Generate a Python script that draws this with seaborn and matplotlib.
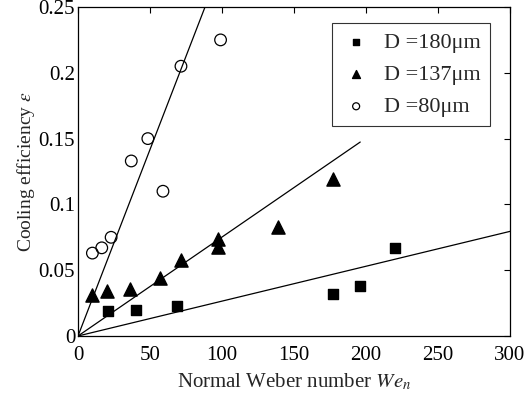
import numpy as np
import pandas as pd
import matplotlib
matplotlib.use("Agg")
import matplotlib.pyplot as plt
import seaborn as sns

# Data
we_180 = [21, 40, 69, 177, 196, 220]
eps_180 = [0.019, 0.020, 0.023, 0.032, 0.038, 0.067]
we_137 = [10, 20, 36, 57, 71.5, 97.5, 97.5, 139, 177]
eps_137 = [0.031, 0.034, 0.0355, 0.044, 0.058, 0.0735, 0.0676, 0.0826, 0.119]
we_80 = [10, 16.5, 23, 37, 48.5, 59, 71.5, 99]
eps_80 = [0.063, 0.067, 0.075, 0.133, 0.150, 0.110, 0.205, 0.225]
labels = ["D =180\u03bcm", "D =137\u03bcm", "D =80\u03bcm"]
# fitted lines through origin: slope and x extent
fit_slopes = [0.000265, 0.000752, 0.002834]
fit_xmax = [300, 196, 100]

sns.set_style("white")
plt.rcParams["font.family"] = ["Liberation Serif", "DejaVu Serif"]
plt.rcParams["mathtext.fontset"] = "stix"
plt.rcParams["font.size"] = 15

fig = plt.figure(figsize=(5.29, 4.05), dpi=100)
ax = fig.add_axes([78/529, 1-336/405, (510-78)/529, (336-7)/405])

for s, xm in zip(fit_slopes, fit_xmax):
    xs = np.array([0, xm])
    sns.lineplot(x=xs, y=s*xs, ax=ax, color="black", lw=0.9, legend=False)

ax.scatter(we_180, eps_180, marker="s", s=45, color="black", label=labels[0], zorder=3)
ax.scatter(we_137, eps_137, marker="^", s=90, color="black", label=labels[1], zorder=3)
ax.scatter(we_80, eps_80, marker="o", s=70, facecolor="none", edgecolor="black",
           linewidths=0.9, label=labels[2], zorder=3)

ax.set_xlim(0, 300)
ax.set_ylim(0, 0.25)
ax.set_xticks([0, 50, 100, 150, 200, 250, 300])
ax.set_yticks([0, 0.05, 0.1, 0.15, 0.2, 0.25])
ax.set_yticklabels(["0", "0.05", "0.1", "0.15", "0.2", "0.25"])
ax.tick_params(direction="in", top=True, right=True, length=4, width=0.8,
               labelsize=15, colors="black")
ax.tick_params(axis="x", pad=7)
ax.tick_params(axis="y", pad=2)
for sp in ax.spines.values():
    sp.set_color("black")
    sp.set_linewidth(0.9)

ax.set_xlabel("Normal Weber number $\\mathit{We}_n$", fontsize=15, labelpad=5)
ax.set_ylabel("Cooling efficiency $\\varepsilon$", fontsize=14, labelpad=1)

leg = ax.legend(loc="upper right", frameon=True, fancybox=False,
                edgecolor="black", fontsize=16, markerscale=0.6,
                handletextpad=0.6, borderpad=0.42, labelspacing=0.52, handlelength=1.3,
                borderaxespad=0)
leg.set_bbox_to_anchor((412/432, 1 - 16/329), transform=ax.transAxes)
leg.get_frame().set_linewidth(0.8)

fig.savefig("out.png", dpi=100)
